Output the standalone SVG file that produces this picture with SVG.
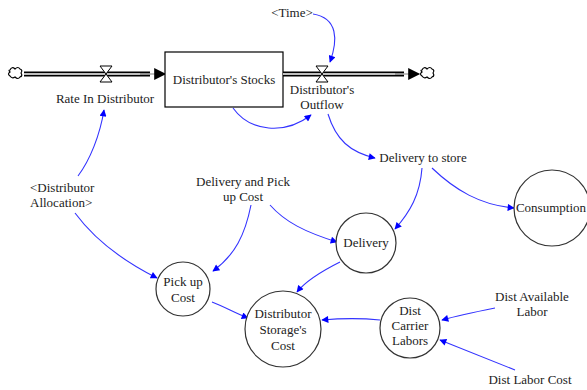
<svg xmlns="http://www.w3.org/2000/svg" width="587" height="390" viewBox="0 0 587 390" font-family="'Liberation Serif', 'DejaVu Serif', serif">
<style>
text{font-family:'Liberation Serif','DejaVu Serif',serif;font-size:13px;fill:#222;text-anchor:middle}
.lnk{fill:none;stroke:#3333ff;stroke-width:1.1;marker-end:url(#ah)}
.aux{fill:#fff;stroke:#333;stroke-width:1.2}
.pipeo{stroke:#000;stroke-width:5;fill:none}
.pipei{stroke:#fff;stroke-width:1.6;fill:none}
.cloud{fill:#fff;stroke:#000;stroke-width:1.2}
</style>
<defs>
<marker id="ah" viewBox="0 0 10 10" refX="9" refY="5" markerWidth="9" markerHeight="7" markerUnits="userSpaceOnUse" orient="auto"><path d="M0,0 L10,5 L0,10 z" fill="#0000ff"/></marker>
<marker id="fh" viewBox="0 0 10 10" refX="9" refY="5" markerWidth="16" markerHeight="12" markerUnits="userSpaceOnUse" orient="auto"><path d="M0,0 L10,5 L0,10 z" fill="#000"/></marker>
<path id="cl" d="M-5,-4 q2,-4 5,-1 q3,-3 5,0 q3,1 1,4 q2,3 -1,4 q-2,3 -5,0 q-3,2 -5,-1 q-3,-2 0,-4 q-2,-2 0,-2z"/>
<path id="valve" d="M-6,-8 L6,-8 L-6,8 L6,8 z"/>
</defs>
<g id="connectors">
<path class="lnk" d="M313,14 C338,18 338,40 330,62"/>
<path class="lnk" d="M233,108 C250,132 285,135 311,115"/>
<path class="lnk" d="M328,114 C336,140 350,152 375,158"/>
<path class="lnk" d="M422,168 C420,195 410,212 395,229"/>
<path class="lnk" d="M432,168 C455,190 480,205 514,208"/>
<path class="lnk" d="M78,176 C90,160 100,135 104,110"/>
<path class="lnk" d="M75,213 C95,240 125,262 157,278"/>
<path class="lnk" d="M251,205 C245,235 235,255 213,271"/>
<path class="lnk" d="M270,205 C285,222 305,232 337,242"/>
<path class="lnk" d="M212,302 C225,307 235,313 248,318"/>
<path class="lnk" d="M340,262 C320,272 305,282 297,292"/>
<path class="lnk" d="M380,320 C360,318 345,318 322,320"/>
<path class="lnk" d="M495,308 C475,312 460,315 442,320"/>
<path class="lnk" d="M515,370 C490,360 465,350 440,340"/>
</g>
<g id="flow-in">
<line class="pipeo" x1="24" y1="74" x2="150" y2="74"/>
<line class="pipei" x1="24" y1="74" x2="150" y2="74"/>
<line x1="140" y1="74" x2="165" y2="74" stroke="#000" stroke-width="0.5" marker-end="url(#fh)"/>
<use href="#cl" x="15" y="74" class="cloud"/>
<use href="#valve" x="106" y="74" fill="#fff" stroke="#000" stroke-width="1"/>
<text x="105" y="103">Rate In Distributor</text>
</g>
<g id="stock">
<rect x="165" y="52" width="118" height="55" fill="#fff" stroke="#000" stroke-width="1.2"/>
<text x="224" y="84">Distributor's Stocks</text>
</g>
<g id="flow-out">
<line class="pipeo" x1="283" y1="74" x2="404" y2="74"/>
<line class="pipei" x1="283" y1="74" x2="404" y2="74"/>
<line x1="395" y1="74" x2="419" y2="74" stroke="#000" stroke-width="0.5" marker-end="url(#fh)"/>
<use href="#cl" x="427" y="74" class="cloud"/>
<use href="#valve" x="322" y="74" fill="#fff" stroke="#000" stroke-width="1"/>
<text x="322" y="94">Distributor's</text>
<text x="322" y="109">Outflow</text>
</g>
<g id="time"><text x="292" y="17">&lt;Time&gt;</text></g>
<g id="delivery-to-store"><text x="423" y="162">Delivery to store</text></g>
<g id="consumption">
<circle class="aux" cx="552" cy="208" r="38"/>
<text x="551" y="212">Consumption</text>
</g>
<g id="dist-allocation">
<text x="30" y="192" style="text-anchor:start">&lt;Distributor</text>
<text x="30" y="207" style="text-anchor:start">Allocation&gt;</text>
</g>
<g id="dpc">
<text x="243" y="186">Delivery and Pick</text>
<text x="243" y="201">up Cost</text>
</g>
<g id="delivery">
<circle class="aux" cx="366" cy="243" r="30"/>
<text x="366" y="247">Delivery</text>
</g>
<g id="pickup">
<circle class="aux" cx="183" cy="289" r="27"/>
<text x="183" y="286">Pick up</text>
<text x="183" y="302">Cost</text>
</g>
<g id="dsc">
<circle class="aux" cx="283" cy="329" r="38"/>
<text x="283" y="318">Distributor</text>
<text x="283" y="334">Storage's</text>
<text x="283" y="350">Cost</text>
</g>
<g id="carrier">
<circle class="aux" cx="410" cy="328" r="30"/>
<text x="410" y="315">Dist</text>
<text x="410" y="330">Carrier</text>
<text x="410" y="345">Labors</text>
</g>
<g id="avail"><text x="532" y="301">Dist Available</text><text x="532" y="316">Labor</text></g>
<g id="laborcost"><text x="530" y="384">Dist Labor Cost</text></g>
</svg>
